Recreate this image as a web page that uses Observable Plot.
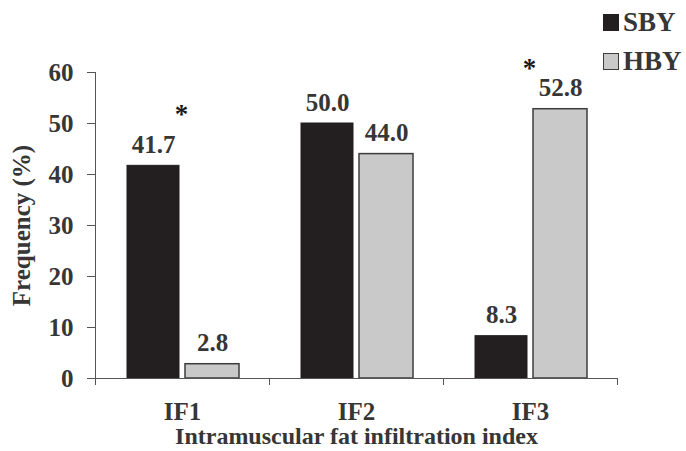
<!DOCTYPE html>
<html>
<head>
<meta charset="utf-8">
<script src="https://cdn.jsdelivr.net/npm/d3@7"></script>
<script src="https://cdn.jsdelivr.net/npm/@observablehq/plot@0.6"></script>
<style>
  html, body { margin: 0; padding: 0; background: #fff; }
  #wrap { position: relative; width: 686px; height: 451px; font-family: "Liberation Serif", "Times New Roman", serif; font-weight: bold; color: #363636; }
  #legend { position: absolute; left: 603px; top: 3px; font-size: 27px; line-height: 39px; }
  .item { display: flex; align-items: center; }
  .sw { width: 16px; height: 17px; margin-right: 4px; box-sizing: border-box; }
</style>
</head>
<body>
<div id="wrap">
  <div id="chart"></div>
  <div id="legend"></div>
</div>
<script>
const categories = ["IF1", "IF2", "IF3"];
const seriesNames = ["SBY", "HBY"];
const sbyValues = [41.7, 50.0, 8.3];
const hbyValues = [2.8, 44.0, 52.8];
const yTicks = [0, 10, 20, 30, 40, 50, 60];
const starCats = ["IF1", "IF3"];
const starLevels = [51.8, 60.8];

const colors = {SBY: "#231f20", HBY: "#c9c9c9"};
const strokes = {SBY: "#231f20", HBY: "#3c3c3c"};

const sbyData = categories.map((c, i) => ({cat: c, series: "SBY", value: sbyValues[i]}));
const hbyData = categories.map((c, i) => ({cat: c, series: "HBY", value: hbyValues[i]}));
const stars = starCats.map((c, i) => ({cat: c, y: starLevels[i]}));

const font = "'Liberation Serif', 'Times New Roman', serif";
const ink = "#363636";

const chart = Plot.plot({
  width: 686,
  height: 451,
  marginLeft: 95,
  marginRight: 69,
  marginTop: 72,
  marginBottom: 73,
  style: {fontFamily: font, fontWeight: "bold", color: ink, background: "#fff", overflow: "visible"},
  x: {domain: categories, padding: 0},
  y: {domain: [0, 60]},
  marks: [
    Plot.barY(sbyData, {x: "cat", y: "value", fill: colors.SBY, stroke: strokes.SBY, strokeWidth: 1, insetLeft: 32, insetRight: 90}),
    Plot.barY(hbyData, {x: "cat", y: "value", fill: colors.HBY, stroke: strokes.HBY, strokeWidth: 1.5, insetLeft: 90, insetRight: 30}),
    Plot.text(sbyData, {x: "cat", y: "value", text: d => d.value.toFixed(1), dx: -29, dy: -13, lineAnchor: "bottom", fontSize: 25, fontWeight: "bold", fill: ink}),
    Plot.text(hbyData, {x: "cat", y: "value", text: d => d.value.toFixed(1), dx: 30, dy: -13, lineAnchor: "bottom", fontSize: 25, fontWeight: "bold", fill: ink}),
    Plot.text(stars, {x: "cat", y: "y", text: () => "*", fontSize: 27, fontWeight: "bold", fill: "#1a1a1a", dx: -1, lineAnchor: "middle"}),
    Plot.axisY({ticks: yTicks, tickSize: 8, tickPadding: 14, fontSize: 25, fontWeight: "bold", stroke: "#555", fill: ink, label: "Frequency (%)", labelAnchor: "center", labelOffset: 83, labelArrow: "none"}),
    Plot.axisX({tickSize: 0, tickPadding: 24, fontSize: 25, fontWeight: "bold", fill: ink, label: null}),
    Plot.text(["Intramuscular fat infiltration index"], {frameAnchor: "bottom", text: d => d, dy: 58, dx: 0, fontSize: 24, fontWeight: "bold", fill: ink, lineAnchor: "middle"}),
    Plot.ruleX(categories, {x: d => d, y1: 0, y2: 0, insetBottom: -7, dx: -87, stroke: "#555"}),
    Plot.ruleX(categories.slice(-1), {x: d => d, y1: 0, y2: 0, insetBottom: -7, dx: 87, stroke: "#555"}),
    Plot.frame({anchor: "left", stroke: "#555"}),
    Plot.frame({anchor: "bottom", stroke: "#555"})
  ]
});
document.getElementById("chart").appendChild(chart);

const legend = document.getElementById("legend");
seriesNames.forEach(s => {
  const item = document.createElement("div");
  item.className = "item";
  const sw = document.createElement("span");
  sw.className = "sw";
  sw.style.background = colors[s];
  sw.style.border = "1.5px solid " + strokes[s];
  const label = document.createElement("span");
  label.textContent = s;
  item.appendChild(sw);
  item.appendChild(label);
  legend.appendChild(item);
});
</script>
</body>
</html>
